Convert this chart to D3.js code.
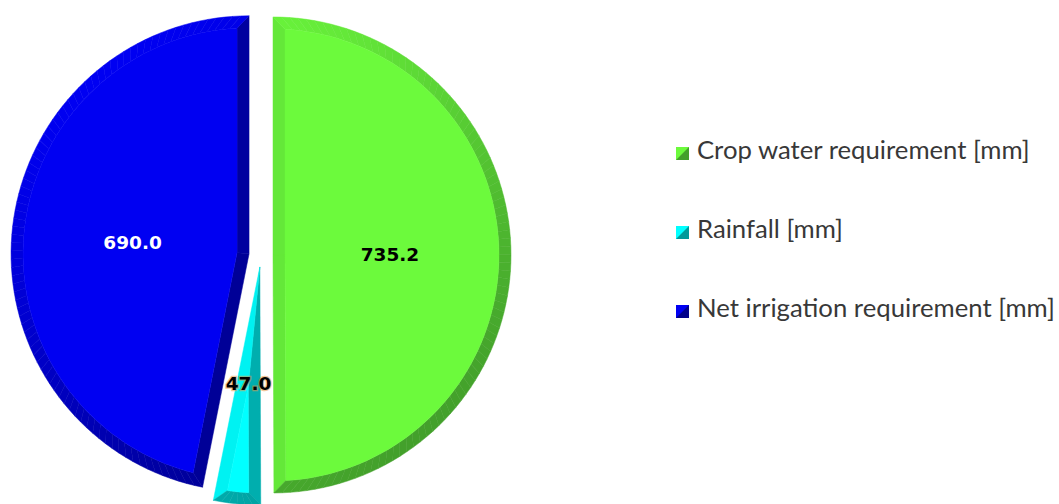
<!DOCTYPE html>
<html>
<head>
<meta charset="utf-8">
<script src="https://cdn.jsdelivr.net/npm/d3@7"></script>
<style>
  body { margin: 0; background: #fff; }
  svg { display: block; }
</style>
</head>
<body>
<div class="app"></div>
<script>
// chart data
var categories = ["Crop water requirement [mm]", "Rainfall [mm]", "Net irrigation requirement [mm]"];
var values = [735.2, 47.0, 690.0];
var labels = ["735.2", "47.0", "690.0"];

var baseColors = ["#6cfa3c", "#00ffff", "#0000f2"],
    darkColors = ["#43a02b", "#009a9a", "#00008a"],
    labelColors = ["#000", "#000", "#fff"];

var W = 1059, H = 504;
var cx = 261, cy = 255, R = 238, explode = 12, bevel = 12;
var light = [-0.6, -0.8]; // light comes from the top left

var svg = d3.select(".app").append("svg")
    .attr("width", W)
    .attr("height", H);

svg.append("rect").attr("width", W).attr("height", H).attr("fill", "#fff");

var pie = d3.pie().sort(null).startAngle(0).endAngle(2 * Math.PI);
var arcs = pie(values);

function pt(c, a, r) { return [c[0] + r * Math.sin(a), c[1] - r * Math.cos(a)]; }

function shade(i, n) {
    var s = n[0] * light[0] + n[1] * light[1];
    var t = (1 - s) / 2;
    return d3.interpolateRgb(baseColors[i], darkColors[i])(t);
}

var line = d3.line();
var pies = svg.append("g").attr("class", "pie");

arcs.forEach(function(d, i) {
    var a0 = d.startAngle, a1 = d.endAngle, th = a1 - a0, mid = (a0 + a1) / 2;
    var c = pt([cx, cy], mid, explode);
    var g = pies.append("g").attr("class", "slice");
    var ain = pt(c, mid, bevel / Math.sin(th / 2));
    var dl = Math.asin(bevel / (R - bevel));
    var thIn = th - 2 * dl;

    // radial edges
    var n0 = [-Math.cos(a0), -Math.sin(a0)], n1 = [Math.cos(a1), Math.sin(a1)];
    [[a0, a0 + dl, n0], [a1, a1 - dl, n1]].forEach(function(e) {
        var col = shade(i, e[2]);
        g.append("path")
            .attr("d", line([c, pt(c, e[0], R), pt(c, e[1], R - bevel), ain]) + "Z")
            .attr("fill", col).attr("stroke", col).attr("stroke-width", 0.5);
    });

    // outer arc bevel, in small pieces so the light can change along it
    var N = Math.max(2, Math.ceil(th / (Math.PI / 90)));
    for (var k = 0; k < N; k++) {
        var o0 = a0 + k * th / N, o1 = a0 + (k + 1) * th / N;
        var q0 = a0 + dl + k * thIn / N, q1 = a0 + dl + (k + 1) * thIn / N;
        var m = (o0 + o1) / 2;
        var col = shade(i, [Math.sin(m), -Math.cos(m)]);
        g.append("path")
            .attr("d", line([pt(c, o0, R), pt(c, o1, R), pt(c, q1, R - bevel), pt(c, q0, R - bevel)]) + "Z")
            .attr("fill", col).attr("stroke", col).attr("stroke-width", 0.5);
    }

    // face of the slice
    var face = [ain];
    for (var k = 0; k <= N; k++) face.push(pt(c, a0 + dl + k * thIn / N, R - bevel));
    g.append("path")
        .attr("d", line(face) + "Z")
        .attr("fill", baseColors[i]).attr("stroke", baseColors[i]).attr("stroke-width", 0.4);

    // value label
    var lp = pt(c, mid, 117);
    g.append("text")
        .attr("x", lp[0])
        .attr("y", lp[1])
        .attr("dy", "0.35em")
        .attr("text-anchor", "middle")
        .style("font-family", "'DejaVu Sans', Verdana, sans-serif")
        .style("font-weight", "bold")
        .style("font-size", "18.5px")
        .style("paint-order", "stroke")
        .attr("stroke", i === 1 ? "rgba(230,150,70,0.55)" : "none")
        .attr("stroke-width", i === 1 ? 2.5 : 0)
        .attr("fill", labelColors[i])
        .text(labels[i]);
});

// legend
var legend = svg.append("g").attr("class", "legend")
    .attr("transform", "translate(676,147)");

var rows = legend.selectAll("g").data(categories).enter().append("g")
    .attr("transform", function(d, i) { return "translate(0," + (i * 79) + ")"; });

rows.append("path")
    .attr("d", "M0,0H13V13H0Z")
    .attr("fill", function(d, i) { return baseColors[i]; });
rows.append("path")
    .attr("d", "M13,0V13H0Z")
    .attr("fill", function(d, i) { return darkColors[i]; });

var txt = rows.append("text")
    .attr("x", 21)
    .attr("y", 12)
    .style("font-family", "Lato, 'Open Sans', sans-serif")
    .style("font-size", "22px")
    .attr("fill", "#383838")
    .text(function(d) { return d; });

// fit the longest legend entry to the width it has in the picture
var longest = txt.nodes()[2].getComputedTextLength();
txt.style("font-size", (22 * 358 / longest) + "px");
</script>
</body>
</html>
